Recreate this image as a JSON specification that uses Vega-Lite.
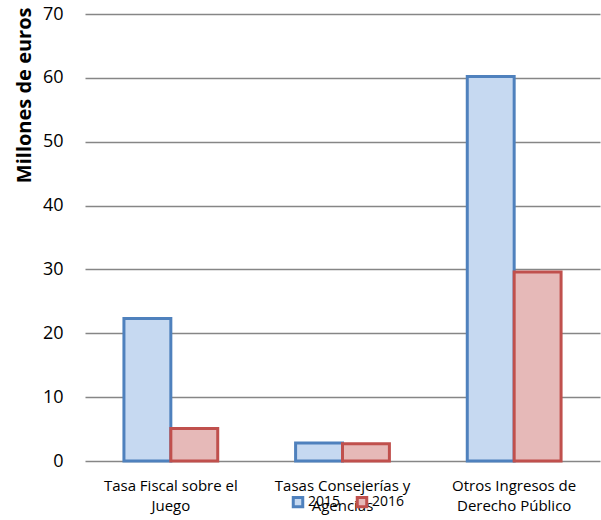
{
  "$schema": "https://vega.github.io/schema/vega-lite/v6.json",
  "autosize": {"type": "none"},
  "width": 515,
  "height": 447,
  "padding": {"left": 85, "top": 14, "right": 1, "bottom": 59},
  "background": "white",
  "config": {"view": {"stroke": null}, "font": "Open Sans"},
  "data": {"values": [
    {"categoria": "Tasa Fiscal sobre el Juego", "anio": "2015", "valor": 22.3},
    {"categoria": "Tasa Fiscal sobre el Juego", "anio": "2016", "valor": 5.1},
    {"categoria": "Tasas Consejerías y Agencias", "anio": "2015", "valor": 2.8},
    {"categoria": "Tasas Consejerías y Agencias", "anio": "2016", "valor": 2.7},
    {"categoria": "Otros Ingresos de Derecho Público", "anio": "2015", "valor": 60.2},
    {"categoria": "Otros Ingresos de Derecho Público", "anio": "2016", "valor": 29.6}
  ]},
  "mark": {"type": "bar", "strokeWidth": 3},
  "encoding": {
    "x": {
      "field": "categoria", "type": "nominal", "sort": null,
      "scale": {"paddingInner": 0, "paddingOuter": 0},
      "axis": {
        "title": null, "labelAngle": 0, "ticks": false, "domain": false,
        "labelFontSize": 15, "labelColor": "#000000", "labelPadding": 17,
        "labelLineHeight": 20, "labelBaseline": "top",
        "labelExpr": "datum.value == 'Tasa Fiscal sobre el Juego' ? ['Tasa Fiscal sobre el', 'Juego'] : datum.value == 'Tasas Consejerías y Agencias' ? ['Tasas Consejerías y', 'Agencias'] : ['Otros Ingresos de', 'Derecho Público']"
      }
    },
    "xOffset": {"field": "anio", "type": "nominal", "scale": {"paddingInner": 0, "paddingOuter": 0.83}},
    "y": {
      "field": "valor", "type": "quantitative",
      "scale": {"domain": [0, 70], "nice": false},
      "axis": {
        "values": [0, 10, 20, 30, 40, 50, 60, 70],
        "title": "Millones de euros", "titleFontSize": 20, "titleFontWeight": "bold",
        "titleColor": "#000000", "titleAnchor": "end", "titleAlign": "right",
        "titleAngle": -90, "titleBaseline": "middle", "titleX": -61, "titleY": -7,
        "labelFontSize": 18, "labelColor": "#000000", "labelPadding": 22,
        "ticks": false, "domain": false,
        "grid": true, "gridColor": "#868686", "gridWidth": 1.5
      }
    },
    "fill": {
      "field": "anio", "type": "nominal",
      "scale": {"domain": ["2015", "2016"], "range": ["#C6D9F1", "#E6B9B8"]},
      "legend": {
        "title": null, "orient": "none", "direction": "horizontal",
        "legendX": 206, "legendY": 481,
        "symbolType": "square", "symbolSize": 90, "symbolStrokeWidth": 3,
        "labelFontSize": 14, "labelColor": "#000000", "columnPadding": 10, "labelOffset": 3
      }
    },
    "stroke": {
      "field": "anio", "type": "nominal",
      "scale": {"domain": ["2015", "2016"], "range": ["#4F81BD", "#C0504D"]},
      "legend": null
    }
  }
}
